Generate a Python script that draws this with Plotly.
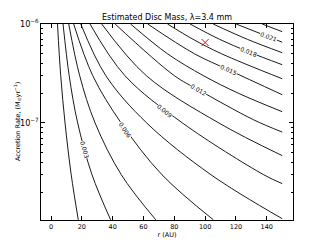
import plotly.graph_objects as go
import math

# Contour levels (disc mass, M_sun); every other level is labelled
contour_levels = [0.0015, 0.003, 0.0045, 0.006, 0.0075, 0.009, 0.0105, 0.012,
                  0.0135, 0.015, 0.0165, 0.018, 0.0195, 0.021, 0.0225]

# Points: radius r (AU) and accretion rate (Msun/yr)
contour_r = [
    [4.2, 6.3, 9.1, 13.1, 17.7],
    [7.8, 11.8, 17.3, 26.6, 38.7],
    [11.5, 18.6, 28.6, 45.6, 68.0],
    [14.7, 27.1, 45.5, 72.0, 105.4],
    [19.3, 35.6, 62.1, 103.8, 150.0],
    [25.3, 48.0, 85.3, 138.0, 150.0],
    [32.9, 61.9, 108.9, 150.0],
    [41.6, 80.1, 95.5, 131.3, 150.0],
    [51.6, 75.6, 99.0, 121.5, 150.0],
    [62.7, 93.1, 115.0, 150.0],
    [75.6, 92.2, 110.7, 150.0],
    [90.2, 109.4, 128.0, 150.0],
    [105.2, 127.4, 150.0],
    [120.1, 141.0, 150.0],
    [137.0, 150.0],
]
contour_mdot = [
    [1e-6, 3e-7, 1e-7, 3e-8, 1.05e-8],
    [1e-6, 3e-7, 1e-7, 3e-8, 1.05e-8],
    [1e-6, 3e-7, 1e-7, 3e-8, 1.05e-8],
    [1e-6, 3e-7, 1e-7, 3e-8, 1.05e-8],
    [1e-6, 3e-7, 1e-7, 3e-8, 1.08e-8],
    [1e-6, 3e-7, 1e-7, 3e-8, 2.44e-8],
    [1e-6, 3e-7, 1e-7, 4.68e-8],
    [1e-6, 3e-7, 2.17e-7, 1.08e-7, 8.1e-8],
    [1e-6, 5e-7, 3e-7, 2e-7, 1.30e-7],
    [1e-6, 5e-7, 3.45e-7, 1.93e-7],
    [1e-6, 7e-7, 5e-7, 2.80e-7],
    [1e-6, 7e-7, 5.25e-7, 3.88e-7],
    [1e-6, 7e-7, 5.13e-7],
    [1e-6, 7.44e-7, 6.55e-7],
    [1e-6, 8.36e-7],
]

# Inline contour labels
label_text = ["0.003", "0.006", "0.009", "0.012", "0.015", "0.018", "0.021"]
label_r = [21.8, 48.1, 73.5, 95.5, 115.0, 128.0, 141.0]
label_mdot = [5.37e-8, 8.65e-8, 1.33e-7, 2.17e-7, 3.45e-7, 5.25e-7, 7.44e-7]
label_angle = [74, 57, 40, 30, 24, 22, 20]

# Marked source
source_r = [100]
source_mdot = [6.5e-7]

FONT = "DejaVu Sans"

fig = go.Figure()
for r, m in zip(contour_r, contour_mdot):
    fig.add_trace(go.Scatter(
        x=r, y=m, mode="lines",
        line=dict(color="black", width=0.9, shape="spline", smoothing=1.0),
        hoverinfo="skip", showlegend=False))

fig.add_trace(go.Scatter(
    x=source_r, y=source_mdot, mode="markers",
    marker=dict(symbol="x-thin", size=7, line=dict(color="red", width=1)),
    showlegend=False, hoverinfo="skip"))

for t, r, m, a in zip(label_text, label_r, label_mdot, label_angle):
    fig.add_annotation(x=r, y=math.log10(m), xref="x", yref="y", text=t,
                       showarrow=False, textangle=a, bgcolor="white",
                       borderpad=0, font=dict(family=FONT, size=6, color="black"))

# y-axis title placed as a rotated annotation left of the tick labels
fig.add_annotation(x=(17 - 41) / 252, y=0.5, xref="paper", yref="paper",
                   text="Accretion Rate, (M<sub>⊙</sub>yr<sup>−1</sup>)",
                   showarrow=False, textangle=-90, xanchor="center",
                   yanchor="middle", font=dict(family=FONT, size=6.5, color="black"))

fig.update_layout(
    width=325, height=245,
    margin=dict(l=41, r=32, t=24, b=25, autoexpand=False),
    paper_bgcolor="white", plot_bgcolor="white",
    font=dict(family=FONT, size=6.5, color="black"),
    title=dict(text="Estimated Disc Mass, λ=3.4 mm", x=0.514, xanchor="center",
               y=1 - 16.7 / 245, yanchor="middle", yref="container",
               font=dict(family=FONT, size=8, color="black")),
    showlegend=False,
)
fig.update_xaxes(
    automargin=False,
    range=[-6.5, 157], tick0=0, dtick=20, ticks="inside", ticklen=4,
    tickcolor="black", showline=True, linecolor="black", linewidth=1,
    mirror="ticks", showgrid=False, zeroline=False,
    tickfont=dict(family=FONT, size=6.5),
    title=dict(text="r (AU)", font=dict(family=FONT, size=6.5), standoff=0))
fig.update_yaxes(
    automargin=False,
    type="log", range=[-7.98, -6.0], dtick=1, exponentformat="power",
    ticks="inside", ticklen=4, tickcolor="black", showline=True,
    linecolor="black", linewidth=1, mirror="ticks", showgrid=False,
    zeroline=False, tickfont=dict(family=FONT, size=6.5),
    minor=dict(ticks="inside", ticklen=2, tickcolor="black", showgrid=False))

fig.write_html("out.html", config={"displayModeBar": False},
               post_script="document.body.style.margin='0px';")
